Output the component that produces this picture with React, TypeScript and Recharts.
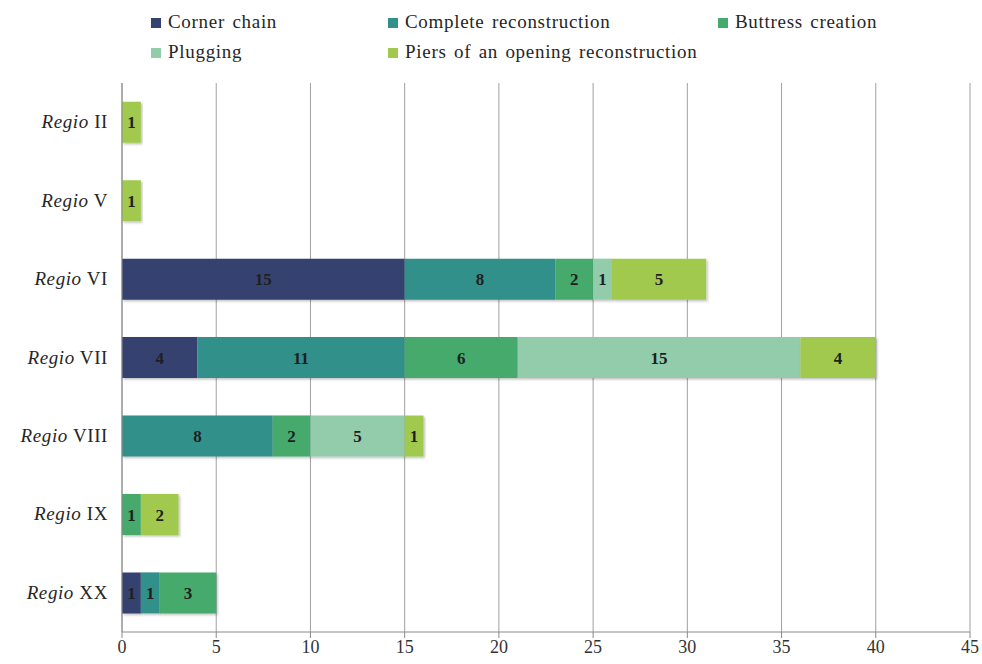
import React from "react"
import { BarChart, Bar, XAxis, YAxis, CartesianGrid, LabelList } from "recharts"

const REGIONS = ["II", "V", "VI", "VII", "VIII", "IX", "XX"]
const cornerChain = [0, 0, 15, 4, 0, 0, 1]
const completeReconstruction = [0, 0, 8, 11, 8, 0, 1]
const buttressCreation = [0, 0, 2, 6, 2, 1, 3]
const plugging = [0, 0, 1, 15, 5, 0, 0]
const piers = [1, 1, 5, 4, 1, 2, 0]
const X_TICKS = [0, 5, 10, 15, 20, 25, 30, 35, 40, 45]

const SERIES = [
  { key: "corner", name: "Corner chain", color: "#34426f", values: cornerChain },
  { key: "complete", name: "Complete reconstruction", color: "#32908a", values: completeReconstruction },
  { key: "buttress", name: "Buttress creation", color: "#45aa6c", values: buttressCreation },
  { key: "plugging", name: "Plugging", color: "#92ccab", values: plugging },
  { key: "piers", name: "Piers of an opening reconstruction", color: "#a0c94e", values: piers },
]

const data = REGIONS.map((r, i) => {
  const row: Record<string, any> = { region: r }
  SERIES.forEach((s) => {
    row[s.key] = s.values[i] > 0 ? s.values[i] : undefined
  })
  return row
})

const FONT = "Liberation Serif"

const RegioTick = (props: any) => {
  const { x, y, payload } = props
  return (
    <text
      x={x - 6}
      y={y}
      dy={6}
      textAnchor="end"
      fontFamily={FONT}
      fontSize={19}
      letterSpacing={0.6}
      fill="#262626"
    >
      <tspan fontStyle="italic">Regio</tspan>
      <tspan> {payload.value}</tspan>
    </text>
  )
}

// legend laid out in two rows like the original
const legendPos = [
  { left: 151, top: 11 },
  { left: 388, top: 11 },
  { left: 718, top: 11 },
  { left: 151, top: 41 },
  { left: 388, top: 41 },
]

export default function App() {
  return (
    <div style={{ position: "absolute", left: 0, top: 0, width: 982, height: 664, background: "#fff", fontFamily: FONT }}>
      {SERIES.map((s, i) => (
        <div
          key={s.key}
          style={{
            position: "absolute",
            left: legendPos[i].left,
            top: legendPos[i].top,
            fontSize: 19,
            letterSpacing: 0.7,
            wordSpacing: 2,
            color: "#262626",
            whiteSpace: "nowrap",
            fontFamily: FONT,
          }}
        >
          <span style={{ width: 10, height: 10, background: s.color, display: "inline-block", marginRight: 7 }} />
          {s.name}
        </div>
      ))}
      <BarChart
        width={982}
        height={664}
        data={data}
        layout="vertical"
        margin={{ top: 83, right: 12, bottom: 0, left: 8 }}
        barCategoryGap="24%"
      >
        <defs>
          <filter id="barShadow" x="-5%" y="-10%" width="115%" height="130%">
            <feDropShadow dx="1.5" dy="1.5" stdDeviation="1" floodColor="#000" floodOpacity="0.25" />
          </filter>
        </defs>
        <CartesianGrid horizontal={false} stroke="#a0a0a0" strokeWidth={1} />
        <XAxis
          type="number"
          domain={[0, 45]}
          ticks={X_TICKS}
          height={32}
          stroke="#8a8a8a"
          tickSize={6}
          tick={{ fontFamily: FONT, fontSize: 18, fill: "#333" }}
          interval={0}
        />
        <YAxis
          type="category"
          dataKey="region"
          width={114}
          stroke="#8a8a8a"
          tickLine={false}
          tick={<RegioTick />}
        />
        {SERIES.map((s) => (
          <Bar
            key={s.key}
            dataKey={s.key}
            name={s.name}
            stackId="a"
            fill={s.color}
            isAnimationActive={false}
            style={{ filter: "url(#barShadow)" }}
          >
            <LabelList
              dataKey={s.key}
              position="center"
              fontFamily={FONT}
              fontSize={17}
              fontWeight="bold"
              fill="#1f1f1f"
            />
          </Bar>
        ))}
      </BarChart>
    </div>
  )
}
